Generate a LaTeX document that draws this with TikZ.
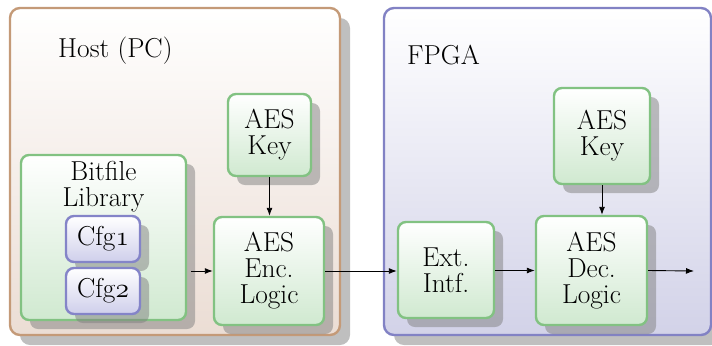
\RequirePackage{fix-cm}
\documentclass[tikz,border=0pt]{standalone}
\usepackage{fontspec}
\usetikzlibrary{shadows,arrows.meta}
\definecolor{hostbd}{HTML}{C49A78}
\definecolor{hostbg}{HTML}{EBDDD4}
\definecolor{fpgabd}{HTML}{8282C4}
\definecolor{fpgabg}{HTML}{D2D2E8}
\definecolor{grnbd}{HTML}{82C282}
\definecolor{grnbg}{HTML}{D0E9D0}
\definecolor{cfgbd}{HTML}{8484C8}
\definecolor{cfgbg}{HTML}{CFCFEB}
\newcommand\osnum[1]{{\usefont{OML}{cmm}{m}{it}#1}}
\begin{document}
\begin{tikzpicture}[x=1bp,y=-1bp,
  every node/.style={font=\fontsize{27.5}{26}\selectfont, align=center, inner sep=0pt},
  region/.style={draw, line width=2.4bp, rounded corners=10bp,
    drop shadow={shadow xshift=10bp, shadow yshift=-10bp}},
  hostbox/.style={region, draw=hostbd, top color=white, bottom color=hostbg},
  fpgabox/.style={region, draw=fpgabd, top color=white, bottom color=fpgabg},
  blk/.style={draw=grnbd, line width=2.4bp, rounded corners=8bp,
    top color=white, bottom color=grnbg,
    drop shadow={shadow xshift=9bp, shadow yshift=-9bp}},
  cfgbox/.style={draw=cfgbd, line width=2.4bp, rounded corners=8bp,
    top color=white, bottom color=cfgbg,
    drop shadow={shadow xshift=9bp, shadow yshift=-9bp}},
  conn/.style={-{Latex[length=8bp,width=6bp]}, line width=0.9bp}
]
\useasboundingbox (0,0) rectangle (712,345);

% outer regions
\node[hostbox, minimum width=330bp, minimum height=327bp] (host) at (175,171.5) {};
\node[fpgabox, minimum width=327bp, minimum height=327bp] (fpga) at (547.5,171.5) {};
\node[anchor=base west] (hostlbl) at (58,57) {Host (PC)};
\node[anchor=base west] (fpgalbl) at (407,64) {FPGA};

% host blocks
\node[blk, minimum width=83bp, minimum height=82bp] (hkey) at (269.5,135) {AES\\Key};
\node[blk, minimum width=165bp, minimum height=165bp] (bit) at (103.5,237.5) {};
\node[anchor=north] (bitlbl) at (103.5,161) {Bitfile\\Library};
\node[cfgbox, minimum width=74bp, minimum height=46bp] (cfg1) at (103,239) {Cfg\osnum{1}};
\node[cfgbox, minimum width=74bp, minimum height=46bp] (cfg2) at (103,291) {Cfg\osnum{2}};
\node[blk, minimum width=110bp, minimum height=108bp] (enc) at (269,271) {AES\\Enc.\\Logic};

% fpga blocks
\node[blk, minimum width=96bp, minimum height=96bp] (ext) at (446,270) {Ext.\\Intf.};
\node[blk, minimum width=96bp, minimum height=96bp] (fkey) at (602,136) {AES\\Key};
\node[blk, minimum width=111bp, minimum height=109bp] (dec) at (591.5,270.5) {AES\\Dec.\\Logic};
\coordinate (out) at (694,271);

% connectors
\draw[conn] ([xshift=4bp]bit.east |- enc.west) -- (enc.west);
\draw[conn] (hkey.south) -- (hkey.south |- enc.north);
\draw[conn] (enc.east) -- (enc.east -| ext.west);
\draw[conn] (ext.east |- dec.west) -- (dec.west);
\draw[conn] (fkey.south) -- (fkey.south |- dec.north);
\draw[conn] (dec.east) -- (out);
\end{tikzpicture}
\end{document}
